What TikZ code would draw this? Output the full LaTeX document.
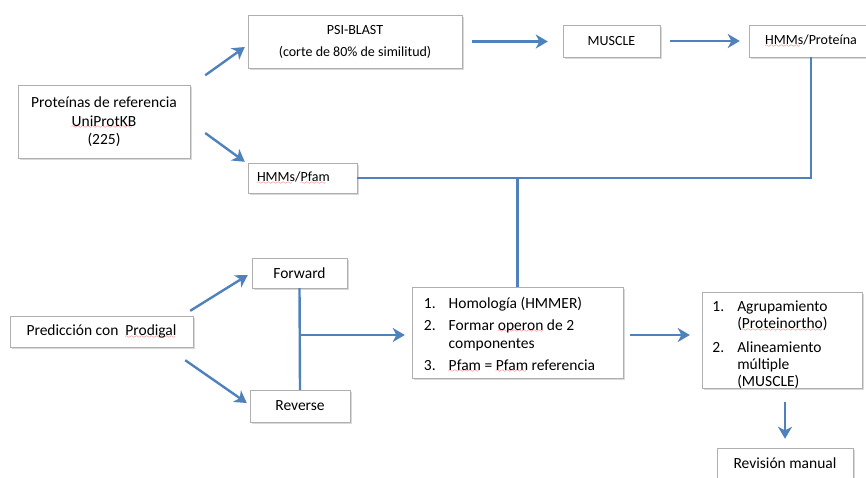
\documentclass[tikz,border=0pt]{standalone}
\usepackage{fontspec}
\setmainfont{Carlito}
\usepackage{tikz}
\usetikzlibrary{positioning,calc,shadows,arrows.meta}
\definecolor{officeblue}{RGB}{79,129,189}
\definecolor{boxgray}{RGB}{175,175,175}
\definecolor{spellred}{RGB}{220,40,40}
\font\wavefont=lasy6 \relax
\newcommand{\spell}[1]{\setbox0=\hbox{#1}\rlap{\lower2.6pt\hbox to \wd0{\color{spellred}\leaders\hbox{\wavefont\char58}\hfill}}\box0\relax}

\begin{document}
\begin{tikzpicture}[x=1pt,y=-1pt,
    box/.style={draw=boxgray, fill=white, inner sep=0pt, align=center,
        drop shadow={shadow xshift=1.6pt, shadow yshift=-1.8pt, opacity=0.3}},
    big/.style={font=\fontsize{15.5}{18.5}\selectfont},
    small/.style={font=\fontsize{14}{17}\selectfont},
    arr/.style={-{Stealth[length=12pt,width=14pt,inset=3.5pt]}, line width=2.4pt, officeblue},
    link/.style={line width=2.4pt, officeblue}]
    \useasboundingbox (0,0) rectangle (866,477);

    % Reference proteins
    \node[box, big, minimum width=172pt, minimum height=73pt] (ref) at (104,122)
        {Proteínas de referencia\\ \spell{UniProtKB}\\ (225)};
    \node[box, small, minimum width=214pt, minimum height=53pt] (psi) at (355,41.5)
        {PSI-BLAST\\[5pt] (corte de 80\% de similitud)};
    \node[box, small, minimum width=97pt, minimum height=32pt] (muscle) at (611.5,41) {MUSCLE};
    \node[box, small, minimum width=124pt, minimum height=32pt] (hmmprot) at (811,41)
        {\spell{HMMs}/Proteína};
    \node[box, small, minimum width=109pt, minimum height=30pt, align=left, text width=91pt]
        (hmmpfam) at (302.5,178) {\spell{HMMs}/\spell{Pfam}};

    % Prediction
    \node[box, big, minimum width=183pt, minimum height=31pt] (pred) at (101.5,331.5)
        {Predicción con\ \ \spell{Prodigal}};
    \node[box, big, minimum width=95pt, minimum height=30pt] (fwd) at (299.5,273) {Forward};
    \node[box, big, minimum width=100pt, minimum height=32pt] (rev) at (300,406) {Reverse};

    % Filters
    \node[box, big, minimum width=211pt, minimum height=91pt] (filt) at (517.5,332.5)
        {\fontsize{15.5}{18}\selectfont\raisebox{-3pt}[\height][\depth]{%
        \begin{tabular}{@{}l@{\hspace{13pt}}l@{}}
            1. & Homología (HMMER)\\[4pt]
            2. & Formar \spell{operon} de 2\\
               & componentes\\[4pt]
            3. & \spell{Pfam} = \spell{Pfam} referencia
        \end{tabular}}\hspace{16pt}};
    \node[box, big, minimum width=160pt, minimum height=96pt] (clust) at (782,340)
        {\fontsize{15.5}{17}\selectfont\raisebox{-6pt}[\height][\depth]{%
        \begin{tabular}{@{}l@{\hspace{13pt}}l@{}}
            1. & Agrupamiento\\
               & (\spell{Proteinortho})\\[7pt]
            2. & Alineamiento\\
               & múltiple\\
               & (MUSCLE)
        \end{tabular}}\hspace{24pt}};
    \node[box, big, minimum width=136pt, minimum height=30pt] (manual) at (785,463) {Revisión manual};

    % Arrows
    \draw[arr] ([shift={(15,-10)}]ref.north east) -- ([shift={(-3,5.5)}]psi.west);
    \draw[arr] ([shift={(15,11)}]ref.east) -- ([shift={(-3,-1)}]hmmpfam.north west);
    \draw[arr, shorten <=10pt, shorten >=15pt] (psi.east) -- (psi.east -| muscle.west);
    \draw[arr, shorten <=10pt, shorten >=9pt] (muscle.east) -- (muscle.east -| hmmprot.west);
    \draw[link] (hmmprot.south) |- (hmmpfam.east);
    \draw[link] (filt.north) -- (filt.north |- hmmpfam.east);

    \draw[arr] ([shift={(-3,-5)}]pred.north east) -- ([shift={(-4,2)}]fwd.west);
    \draw[arr] ([shift={(-8,13)}]pred.south east) -- ([shift={(-3,-3)}]rev.west);
    \draw[link] (fwd.south) -- (rev.north);
    \draw[arr, shorten >=7pt] ([yshift=-2.5pt]fwd.south |- filt.west) -- ([yshift=-2.5pt]filt.west);

    \draw[arr, shorten <=7pt, shorten >=12pt] ([yshift=-2.5pt]filt.east) -- ([yshift=-2.5pt]filt.east -| clust.west);
    \draw[arr, shorten <=14pt, shorten >=9pt] (manual.north |- clust.south) -- (manual.north);
\end{tikzpicture}
\end{document}
